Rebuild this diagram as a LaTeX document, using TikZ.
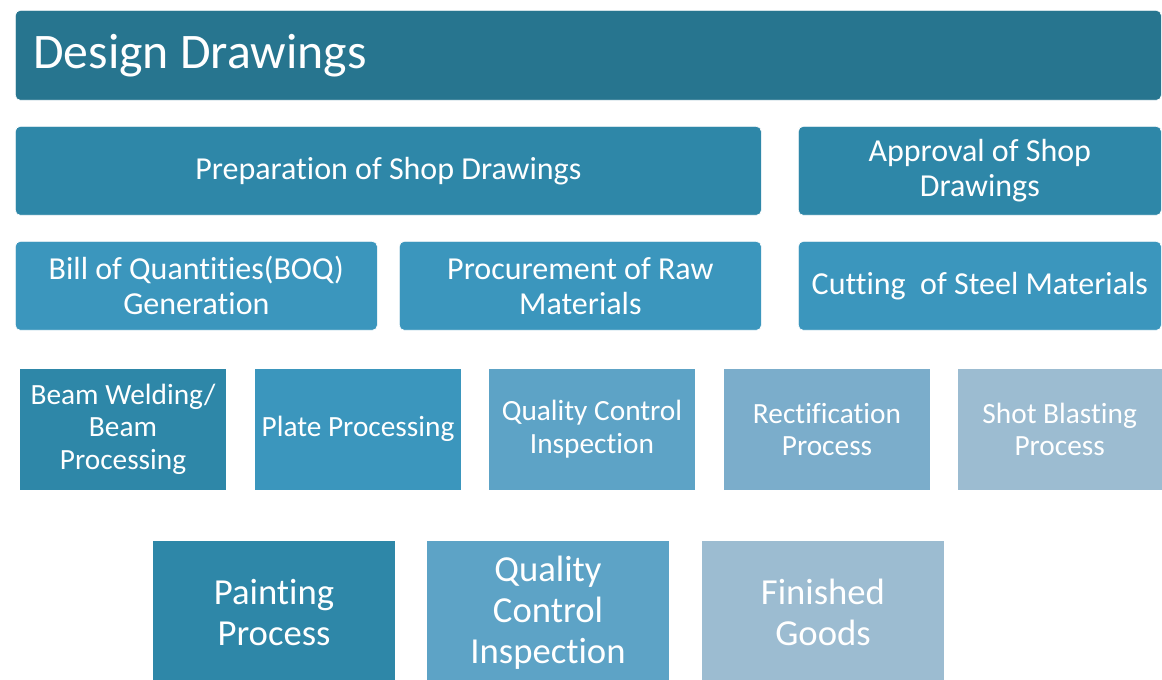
\documentclass[tikz,border=0pt]{standalone}
\usepackage{fontspec}
\setmainfont[RawFeature={-liga;-clig;-dlig;-calt;-hlig}]{Carlito}
\definecolor{cA}{RGB}{39,117,143}
\definecolor{cB}{RGB}{46,135,168}
\definecolor{cC}{RGB}{59,150,189}
\definecolor{cD}{RGB}{93,163,198}
\definecolor{cE}{RGB}{123,173,203}
\definecolor{cF}{RGB}{156,188,209}
\tikzset{
  basebox/.style={anchor=north west, inner sep=0pt, text=white, draw=white, line width=0.5pt, align=center},
  rbox/.style={basebox, rounded corners=3.75pt},
  toprow/.style={rbox, minimum height=67.5pt, font=\fontsize{37.3}{41}\selectfont},
  midrow/.style={rbox, minimum height=66.75pt, font=\fontsize{24}{26.25}\selectfont},
  procrow/.style={basebox, minimum width=155.5pt, minimum height=91.5pt, font=\fontsize{22}{24.4}\selectfont},
  lastrow/.style={basebox, minimum width=182.5pt, minimum height=108pt, font=\fontsize{27.5}{30.75}\selectfont}
}
\begin{document}
\begin{tikzpicture}[x=0.75pt,y=-0.75pt]
\useasboundingbox (0,0) rectangle (1162,680);
\fill[white] (0,0) rectangle (1162,680);
% row 1
\node[toprow, fill=cA, minimum width=859.5pt] (design) at (15,10) {};
\node[anchor=west, inner sep=0pt, text=white, font=\fontsize{37.3}{41}\selectfont] (designtext) at ([xshift=13.5pt]design.west) {Design Drawings};
% row 2
\node[midrow, fill=cB, minimum width=559.5pt] (prep) at (15,126) {Preparation of Shop Drawings};
\node[midrow, fill=cB, minimum width=272.25pt] (approve) at (798,126) {Approval of Shop\\Drawings};
% row 3
\node[midrow, fill=cC, minimum width=271.5pt] (boq) at (15,241) {Bill of Quantities(BOQ)\\Generation};
\node[midrow, fill=cC, minimum width=271.5pt] (procure) at (399,241) {Procurement of Raw\\Materials};
\node[midrow, fill=cC, minimum width=272.25pt] (cut) at (798,241) {Cutting\ \ of Steel Materials};
% row 4
\node[procrow, fill=cB] (beam) at (19,368) {Beam Welding/\\Beam\\Processing};
\node[procrow, fill=cC] (plate) at (254,368) {Plate Processing};
\node[procrow, fill=cD] (qc1) at (488,368) {Quality Control\\Inspection};
\node[procrow, fill=cE] (rect) at (723,368) {Rectification\\Process};
\node[procrow, fill=cF, minimum width=153.5pt] (shot) at (957,368) {Shot Blasting\\Process};
% row 5
\node[lastrow, fill=cB] (paint) at (152,540) {Painting\\Process};
\node[lastrow, fill=cD] (qc2) at (426,540) {Quality\\Control\\Inspection};
\node[lastrow, fill=cF] (goods) at (701,540) {Finished\\Goods};
\end{tikzpicture}
\end{document}
